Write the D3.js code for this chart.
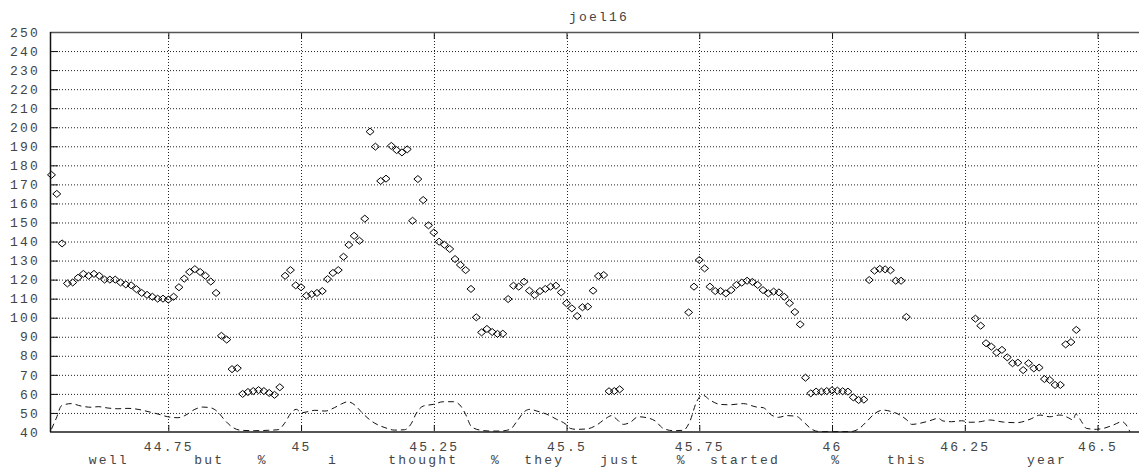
<!DOCTYPE html>
<html>
<head>
<meta charset="utf-8">
<script src="https://cdn.jsdelivr.net/npm/d3@7"></script>
<style>
  body { margin: 0; background: #fff; }
  text { font-family: "Liberation Mono", "DejaVu Sans Mono", monospace; font-size: 13px; fill: #444; letter-spacing: 2.2px; }
</style>
</head>
<body>
<svg id="chart"></svg>
<script>
const width = 1139;
const height = 468;

const title = "joel16";

// pitch track, one value every 10 ms starting at frameStart (null = unvoiced)
const frameStart = 44.53;
const frameStep = 0.01;
const pitchHz = [
    175, 165, 139, 118, 118.5, 121, 123, 122, 123, 122,
    120, 120, 120, 118.5, 117.5, 117, 115, 113, 112, 111,
    110, 110, 109.5, 111, 116, 120.5, 124, 125.5, 124, 122,
    119, 113, 90.5, 88.5, 73, 73.5, 60, 61, 61.5, 62,
    61.5, 60.5, 59.5, 63.5, 122, 125, 117, 116, 111.6, 112.3,
    113, 114, 120.3, 123.5, 125, 132, 138.2, 143, 140.4, 152,
    197.7, 189.8, 171.8, 173, 190.2, 188, 186.8, 188.4, 150.9, 172.8,
    161.8, 148.5, 144.7, 139.9, 138.3, 136.1, 130.8, 127.7, 125, 115.1,
    100.2, 92.3, 94.1, 92.5, 91.5, 91.6, 109.8, 116.8, 116.3, 118.9,
    114.2, 111.9, 114, 115.1, 116.3, 116.8, 113.3, 107.6, 104.9, 100.9,
    105.5, 105.8, 114.2, 121.9, 122.4, 61.4, 61.5, 62.4, null, null,
    null, null, null, null, null, null, null, null, null, null,
    102.8, 116.3, 130.3, 125.9, 116.3, 114, 114, 112.8, 114.5, 117.2,
    118.4, 119.4, 118.8, 117.2, 114.5, 112.8, 113.7, 113.3, 111, 107.6,
    103, 96.5, 68.5, 60.3, 61.2, 61.2, 61.5, 61.9, 61.7, 61.4,
    61.2, 58.2, 56.8, 57, 119.8, 124.7, 125.6, 125.4, 124.9, 119.4,
    119.4, 100.4, null, null, null, null, null, null, null, null,
    null, null, null, null, 99.5, 95.8, 86.6, 84.8, 81.7, 83.1,
    79.2, 76.1, 76.4, 72.5, 76.1, 73.4, 73.8, 67.8, 67.3, 64.7,
    64.7, 86, 87.2, 93.6
];

// energy contour (dashed), [time, value]
const energy = [
    [44.530, 41.5], [44.539, 47.2], [44.549, 53.8], [44.567, 54.9], [44.586, 53.6],
    [44.605, 53.0], [44.618, 53.3], [44.636, 52.6], [44.655, 52.2], [44.674, 52.4],
    [44.693, 51.9], [44.712, 50.7], [44.731, 49.4], [44.749, 48.0], [44.768, 47.5],
    [44.781, 48.6], [44.800, 51.9], [44.815, 53.1], [44.831, 52.6], [44.844, 50.3],
    [44.856, 46.3], [44.872, 42.3], [44.887, 40.9], [44.913, 40.7], [44.938, 40.9],
    [44.957, 41.2], [44.969, 44.6], [44.982, 50.3], [44.991, 51.9], [45.001, 50.1],
    [45.013, 50.7], [45.026, 51.4], [45.045, 51.0], [45.063, 52.8], [45.076, 54.7],
    [45.088, 55.9], [45.101, 54.2], [45.113, 50.7], [45.126, 47.2], [45.139, 44.6],
    [45.158, 42.3], [45.176, 41.0], [45.195, 41.2], [45.208, 44.6], [45.217, 49.8],
    [45.230, 53.6], [45.249, 54.5], [45.268, 55.9], [45.287, 55.9], [45.299, 54.2],
    [45.309, 49.8], [45.321, 42.8], [45.337, 41.0], [45.356, 40.5], [45.375, 40.5],
    [45.394, 41.4], [45.406, 45.4], [45.422, 51.0], [45.431, 51.9], [45.444, 51.0],
    [45.463, 49.3], [45.481, 46.7], [45.499, 44.0], [45.507, 41.9], [45.519, 41.4],
    [45.538, 41.6], [45.557, 43.7], [45.572, 46.7], [45.585, 48.6], [45.594, 46.8],
    [45.607, 44.0], [45.620, 45.1], [45.635, 48.0], [45.651, 47.5], [45.667, 45.8],
    [45.682, 41.9], [45.701, 40.7], [45.720, 40.9], [45.732, 45.4], [45.745, 55.9],
    [45.756, 59.4], [45.770, 56.8], [45.789, 54.5], [45.808, 54.3], [45.833, 54.9],
    [45.858, 53.1], [45.870, 52.8], [45.886, 48.9], [45.899, 47.7], [45.915, 48.6],
    [45.933, 48.2], [45.946, 45.4], [45.962, 41.4], [45.977, 40.2], [46.002, 40.2],
    [46.034, 40.2], [46.049, 41.4], [46.065, 45.4], [46.081, 49.8], [46.096, 51.5],
    [46.112, 50.7], [46.128, 48.9], [46.141, 46.3], [46.150, 44.0], [46.166, 44.6],
    [46.184, 45.9], [46.200, 47.2], [46.209, 45.8], [46.225, 45.4], [46.244, 45.9],
    [46.260, 45.1], [46.279, 45.4], [46.297, 46.3], [46.323, 45.2], [46.348, 44.9],
    [46.373, 46.7], [46.392, 48.9], [46.410, 48.0], [46.429, 48.9], [46.445, 47.5],
    [46.454, 46.3], [46.459, 49.4], [46.470, 45.4], [46.479, 41.9], [46.498, 41.4],
    [46.511, 41.9], [46.530, 43.7], [46.546, 45.4], [46.554, 43.7], [46.561, 40.2]
];

// word labels under the axis, centred at these times
const words = ["well", "but", "%", "i", "thought", "%", "they", "just", "%", "started", "%", "this", "year"];
const wordTimes = [44.638, 44.827, 44.928, 45.060, 45.230, 45.367, 45.458, 45.601, 45.717, 45.836, 46.008, 46.141, 46.405];

const xTicks = [44.75, 45, 45.25, 45.5, 45.75, 46, 46.25, 46.5];
const yTicks = d3.range(40, 251, 10);

const margin = { top: 32, right: 0, bottom: 36, left: 50 };
const innerW = width - margin.left - margin.right;
const innerH = height - margin.top - margin.bottom;

const x = d3.scaleLinear().domain([44.5272, 46.5781]).range([0, innerW]);
const y = d3.scaleLinear().domain([40, 250]).range([innerH, 0]);

const svg = d3.select("#chart")
    .attr("width", width)
    .attr("height", height);

svg.append("text")
    .attr("x", 599)
    .attr("y", 21)
    .attr("text-anchor", "middle")
    .text(title);

const g = svg.append("g")
    .attr("transform", `translate(${margin.left},${margin.top})`);

// dotted grid
g.append("g")
    .selectAll("line")
    .data(yTicks.filter(d => d > 40 && d < 250))
    .join("line")
    .attr("x1", 0)
    .attr("x2", innerW)
    .attr("y1", d => y(d) + 0.5)
    .attr("y2", d => y(d) + 0.5)
    .attr("stroke", "#222")
    .attr("stroke-dasharray", "1,2");

g.append("g")
    .selectAll("line")
    .data(xTicks)
    .join("line")
    .attr("x1", d => Math.round(x(d)) + 0.5)
    .attr("x2", d => Math.round(x(d)) + 0.5)
    .attr("y1", 0)
    .attr("y2", innerH)
    .attr("stroke", "#222")
    .attr("stroke-dasharray", "1,2");

// axes
const yAxis = g.append("g")
    .call(d3.axisLeft(y).tickValues(yTicks).tickSize(-8).tickPadding(10).tickFormat(d3.format("d")));

const xAxis = g.append("g")
    .attr("transform", `translate(0,${innerH})`)
    .call(d3.axisBottom(x).tickValues(xTicks).tickSize(-7).tickPadding(10).tickFormat(d => String(d)));

const topAxis = g.append("g")
    .call(d3.axisTop(x).tickValues(xTicks).tickSize(-7).tickFormat(""));

[yAxis, xAxis, topAxis].forEach(a => {
    a.select(".domain").remove();
    a.selectAll("line").attr("stroke", "#111");
    a.selectAll("text").attr("fill", "#444");
    a.attr("font-family", null).attr("font-size", null);
});

// frame
g.append("line").attr("x1", 0).attr("x2", innerW).attr("y1", 0.5).attr("y2", 0.5)
    .attr("stroke", "#555").attr("stroke-width", 1.5);
g.append("line").attr("x1", 0).attr("x2", innerW).attr("y1", innerH).attr("y2", innerH)
    .attr("stroke", "#555").attr("stroke-width", 2);
g.append("line").attr("x1", 0.5).attr("x2", 0.5).attr("y1", 0).attr("y2", innerH)
    .attr("stroke", "#111").attr("stroke-width", 1.5);

// energy contour
const line = d3.line()
    .x(d => x(d[0]))
    .y(d => y(d[1]))
    .curve(d3.curveMonotoneX);

g.append("path")
    .datum(energy)
    .attr("fill", "none")
    .attr("stroke", "#111")
    .attr("stroke-width", 1)
    .attr("stroke-dasharray", "6,4")
    .attr("d", line);

// pitch diamonds
const pitchPoints = pitchHz
    .map((v, i) => ({ t: frameStart + i * frameStep, v }))
    .filter(d => d.v !== null);

g.append("g")
    .selectAll("path")
    .data(pitchPoints)
    .join("path")
    .attr("transform", d => `translate(${x(d.t)},${y(d.v)})`)
    .attr("d", "M-4,0L0,-3.5L4,0L0,3.5Z")
    .attr("fill", "none")
    .attr("stroke", "#000")
    .attr("stroke-width", 1);

// words
g.append("g")
    .selectAll("text")
    .data(words)
    .join("text")
    .attr("x", (d, i) => x(wordTimes[i]))
    .attr("y", innerH + 32)
    .attr("text-anchor", "middle")
    .text(d => d);
</script>
</body>
</html>
